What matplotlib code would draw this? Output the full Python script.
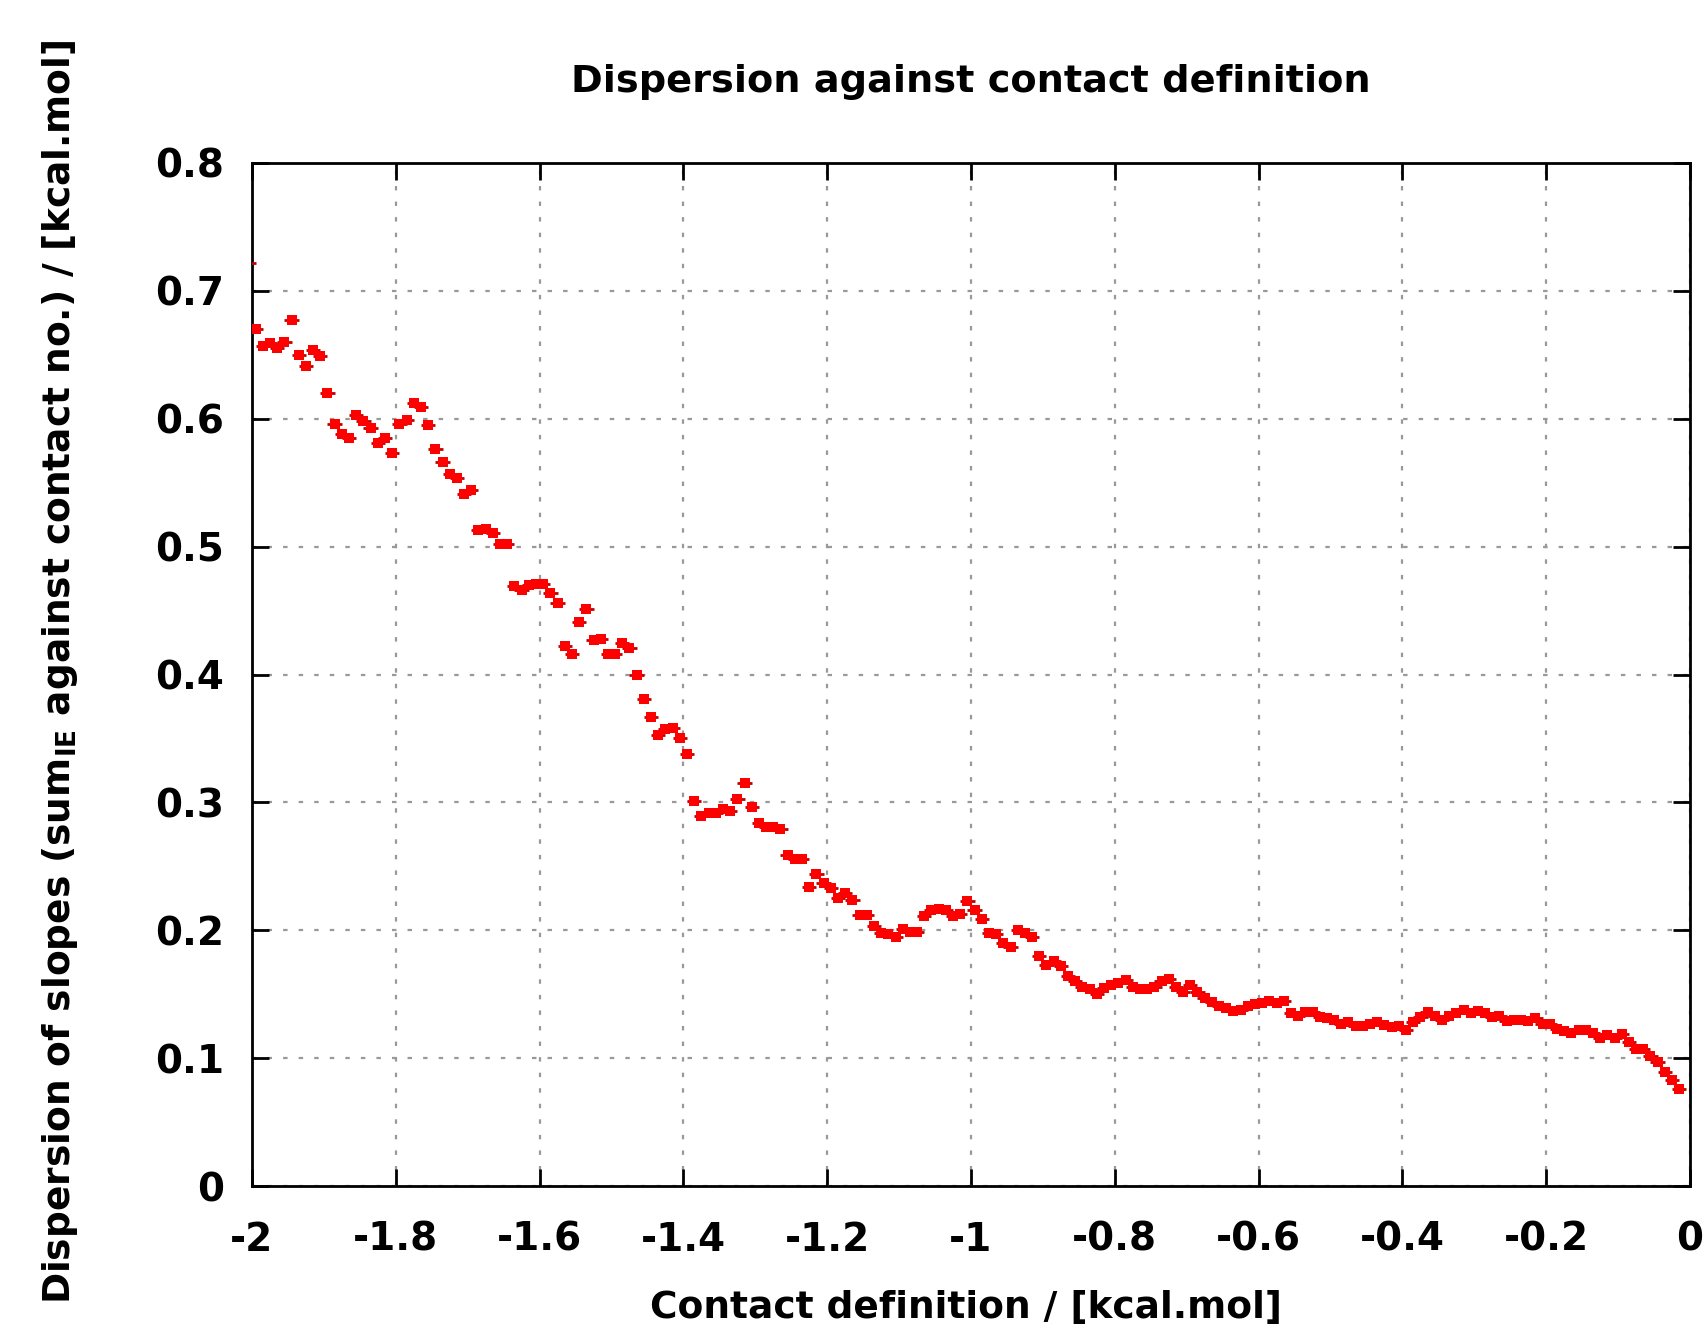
import matplotlib
matplotlib.use("Agg")
import matplotlib.pyplot as plt
import numpy as np

plt.rcParams['font.family'] = ['DejaVu Sans']
plt.rcParams['font.weight'] = 'bold'
plt.rcParams['axes.unicode_minus'] = False
plt.rcParams['mathtext.fontset'] = 'custom'
plt.rcParams['mathtext.bf'] = 'DejaVu Sans:bold'

# Contact definition runs from -2 to 0 in steps of 0.01 (bin centres)
x_start = -2.005
x_step = 0.01
x_half_width = 0.01

# Dispersion values, one per bin
dispersion = [
    0.722, 0.670, 0.657, 0.659, 0.655, 0.660, 0.677, 0.650, 0.641, 0.654,
    0.649, 0.620, 0.596, 0.588, 0.585, 0.603, 0.598, 0.593, 0.581, 0.585,
    0.573, 0.596, 0.599, 0.612, 0.609, 0.595, 0.576, 0.566, 0.557, 0.554,
    0.541, 0.544, 0.513, 0.514, 0.511, 0.502, 0.502, 0.469, 0.466, 0.470,
    0.471, 0.471, 0.464, 0.456, 0.422, 0.416, 0.441, 0.451, 0.427, 0.428,
    0.416, 0.416, 0.425, 0.421, 0.400, 0.381, 0.367, 0.353, 0.357, 0.358,
    0.350, 0.338, 0.301, 0.289, 0.292, 0.292, 0.295, 0.293, 0.303, 0.315,
    0.296, 0.284, 0.281, 0.281, 0.279, 0.259, 0.256, 0.256, 0.234, 0.244,
    0.237, 0.233, 0.225, 0.229, 0.224, 0.212, 0.212, 0.203, 0.198, 0.197,
    0.195, 0.201, 0.199, 0.199, 0.211, 0.216, 0.217, 0.216, 0.211, 0.213,
    0.223, 0.216, 0.209, 0.198, 0.197, 0.190, 0.187, 0.200, 0.198, 0.195,
    0.180, 0.173, 0.176, 0.172, 0.164, 0.160, 0.156, 0.154, 0.150, 0.155,
    0.157, 0.159, 0.161, 0.156, 0.154, 0.154, 0.156, 0.160, 0.162, 0.156,
    0.152, 0.157, 0.152, 0.147, 0.144, 0.141, 0.139, 0.137, 0.138, 0.141,
    0.142, 0.143, 0.145, 0.143, 0.145, 0.135, 0.133, 0.136, 0.136, 0.132,
    0.131, 0.130, 0.127, 0.128, 0.125, 0.125, 0.127, 0.128, 0.126, 0.124,
    0.125, 0.122, 0.128, 0.132, 0.136, 0.133, 0.130, 0.133, 0.135, 0.138,
    0.135, 0.137, 0.135, 0.132, 0.133, 0.129, 0.130, 0.130, 0.129, 0.131,
    0.127, 0.127, 0.123, 0.121, 0.120, 0.122, 0.122, 0.120, 0.116, 0.118,
    0.116, 0.119, 0.113, 0.107, 0.107, 0.102, 0.097, 0.089, 0.083, 0.076,
]

x_ticks = [-2, -1.8, -1.6, -1.4, -1.2, -1, -0.8, -0.6, -0.4, -0.2, 0]
y_ticks = [0, 0.1, 0.2, 0.3, 0.4, 0.5, 0.6, 0.7, 0.8]

y = np.array(dispersion)
x = x_start + x_step * np.arange(len(y))

W, H = 1706, 1331
fig = plt.figure(figsize=(W / 100, H / 100), dpi=100)
ax = fig.add_axes([252 / W, 1 - 1186 / H, (1690 - 252) / W, (1186 - 163) / H])

# horizontal bars for the bin width
ax.errorbar(x, y, xerr=x_half_width, fmt='none', ecolor='#c00000',
            elinewidth=2.0, capsize=0, zorder=3)
inside = x >= -2
ax.plot(x[inside], y[inside], 's', color='#ff0000', markersize=7.2,
        markeredgewidth=0, zorder=4)

ax.set_xlim(-2, 0)
ax.set_ylim(0, 0.8)
ax.set_xticks(x_ticks)
ax.set_xticklabels([f"{v:g}" for v in x_ticks])
ax.set_yticks(y_ticks)
ax.set_yticklabels([f"{v:g}" for v in y_ticks])

ax.tick_params(direction='in', length=12, width=2, top=True, right=True,
               labelsize=28)
ax.tick_params(axis='x', pad=25)
ax.tick_params(axis='y', pad=20)
for s in ax.spines.values():
    s.set_linewidth(2)

ax.grid(True, color='#999999', linestyle=(0, (2, 5)), linewidth=1.6)
ax.set_axisbelow(True)

fig.text(971 / W, 1 - 82 / H, "Dispersion against contact definition",
         ha='center', va='center', fontsize=27.5, fontweight='bold')
fig.text(966 / W, 1 - 1308 / H, "Contact definition / [kcal.mol]",
         ha='center', va='center', fontsize=27, fontweight='bold')
fig.text(60 / W, 1 - 672 / H,
         r"Dispersion of slopes (sum$_\mathbf{IE}$ against contact no.) / [kcal.mol]",
         ha='center', va='center', rotation=90, fontsize=27, fontweight='bold')

fig.savefig("out.png", dpi=100)
plt.close(fig)
